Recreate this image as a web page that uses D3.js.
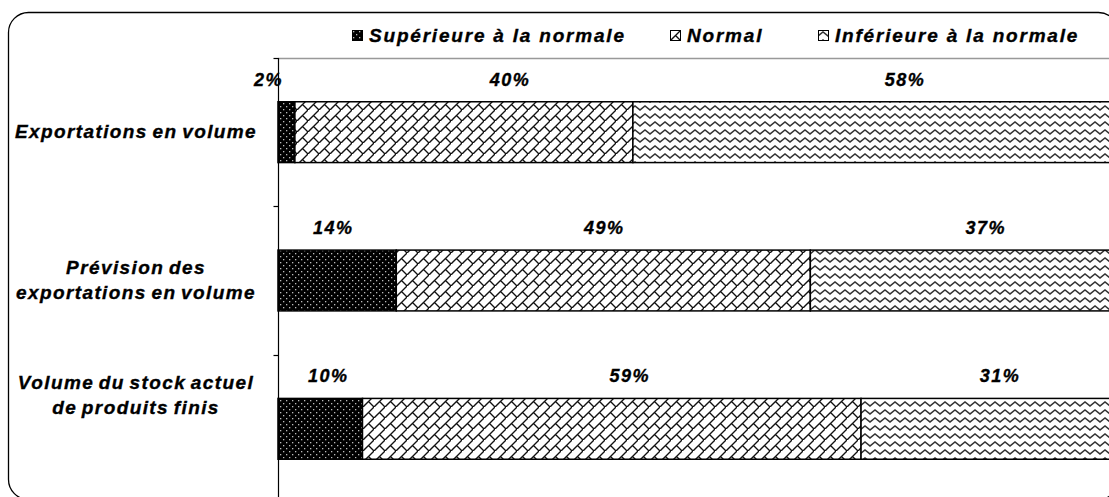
<!DOCTYPE html>
<html lang="fr">
  <head>
    <meta charset="UTF-8" />
    <title>Exportations</title>
    <script src="https://cdnjs.cloudflare.com/ajax/libs/d3/7.8.5/d3.min.js"></script>
    <style>
      body {
        margin: 0;
        background: #fff;
      }
      svg text {
        font-family: 'Liberation Sans', Arial, sans-serif;
        font-weight: bold;
        font-style: italic;
        fill: #000;
        stroke: #000;
        stroke-width: 0.35px;
      }
    </style>
  </head>
  <body>
    <svg width="1109" height="497"></svg>
    <script>
      // Data
      const categories = [
        'Exportations en volume',
        'Prévision des exportations en volume',
        'Volume du stock actuel de produits finis',
      ];
      const categoryLines = [
        ['Exportations en volume'],
        ['Prévision des', 'exportations en volume'],
        ['Volume du stock actuel', 'de produits finis'],
      ];
      const seriesNames = ['Supérieure à la normale', 'Normal', 'Inférieure à la normale'];
      const superieure = [2, 14, 10];
      const normal = [40, 49, 59];
      const inferieure = [58, 37, 31];

      // hand nudges of the value labels (as in the original layout)
      const labelShift = [
        [-18, 46, 27],
        [-4, 1, 19],
        [8, 18, 8],
      ];
      const catLabelShift = [0, 0, -33];

      const svg = d3.select('svg');
      const width = 1109;

      // patterns
      const defs = svg.append('defs');
      const pDots = defs
        .append('pattern')
        .attr('id', 'pSup')
        .attr('patternUnits', 'userSpaceOnUse')
        .attr('width', 6)
        .attr('height', 6);
      pDots.append('rect').attr('width', 6).attr('height', 6).attr('fill', '#000');
      pDots.append('rect').attr('x', 1).attr('y', 1).attr('width', 1.3).attr('height', 1.3).attr('fill', '#bbb');
      pDots.append('rect').attr('x', 4).attr('y', 4).attr('width', 1.3).attr('height', 1.3).attr('fill', '#bbb');

      const pBrick = defs
        .append('pattern')
        .attr('id', 'pNorm')
        .attr('patternUnits', 'userSpaceOnUse')
        .attr('width', 11)
        .attr('height', 11);
      pBrick.append('rect').attr('width', 11).attr('height', 11).attr('fill', '#fff');
      pBrick
        .append('path')
        .attr('d', 'M-1,12 L12,-1 M5.5,5.5 L11,11')
        .attr('stroke', '#111')
        .attr('stroke-width', 1.4)
        .attr('fill', 'none');

      const pWave = defs
        .append('pattern')
        .attr('id', 'pInf')
        .attr('patternUnits', 'userSpaceOnUse')
        .attr('width', 10)
        .attr('height', 8);
      pWave.append('rect').attr('width', 10).attr('height', 8).attr('fill', '#fff');
      pWave
        .append('path')
        .attr('d', 'M-5,2 L0,6 L5,2 L10,6 L15,2')
        .attr('stroke', '#333')
        .attr('stroke-width', 1.5)
        .attr('fill', 'none');

      const fills = ['url(#pSup)', 'url(#pNorm)', 'url(#pInf)'];

      // frame
      svg
        .append('rect')
        .attr('x', 8.5)
        .attr('y', 12.5)
        .attr('width', 1110)
        .attr('height', 487)
        .attr('rx', 20)
        .attr('fill', 'none')
        .attr('stroke', '#000')
        .attr('stroke-width', 1.3);

      // scales
      const x = d3.scaleLinear().domain([0, 100]).range([278, 1123]);
      const y = d3
        .scaleBand()
        .domain(categories)
        .range([58, 503])
        .paddingInner(0.59)
        .paddingOuter(0.295);

      // plot top border
      svg
        .append('line')
        .attr('x1', 278)
        .attr('x2', width)
        .attr('y1', 58.5)
        .attr('y2', 58.5)
        .attr('stroke', '#999')
        .attr('stroke-width', 1.5);

      // stack
      const rows = categories.map((c, i) => ({
        cat: c,
        vals: [superieure[i], normal[i], inferieure[i]],
      }));
      const stack = d3.stack().keys([0, 1, 2]).value((d, k) => d.vals[k]);
      const layers = stack(rows);

      const gBars = svg.append('g');
      layers.forEach((layer, k) => {
        gBars
          .selectAll(null)
          .data(layer)
          .enter()
          .append('rect')
          .attr('x', d => x(d[0]))
          .attr('y', d => y(d.data.cat))
          .attr('width', d => x(d[1]) - x(d[0]))
          .attr('height', y.bandwidth())
          .attr('fill', fills[k])
          .attr('stroke', '#000')
          .attr('stroke-width', 1.5);
      });

      // value labels
      layers.forEach((layer, k) => {
        svg
          .selectAll(null)
          .data(layer)
          .enter()
          .append('text')
          .attr('x', (d, i) => (x(d[0]) + x(d[1])) / 2 + labelShift[i][k])
          .attr('y', d => y(d.data.cat) - 16)
          .attr('text-anchor', 'middle')
          .style('font-size', '18px')
          .style('letter-spacing', '1.5px')
          .text(d => d.data.vals[k] + '%');
      });

      // category axis
      const axisX = 278.5;
      svg
        .append('line')
        .attr('x1', axisX)
        .attr('x2', axisX)
        .attr('y1', 58)
        .attr('y2', 497)
        .attr('stroke', '#000')
        .attr('stroke-width', 1.2);
      d3.range(categories.length + 1).forEach(i => {
        const ty = Math.round(58 + i * y.step()) + 0.5;
        svg
          .append('line')
          .attr('x1', axisX - 5)
          .attr('x2', axisX)
          .attr('y1', ty)
          .attr('y2', ty)
          .attr('stroke', '#000')
          .attr('stroke-width', 1.2);
      });

      categories.forEach((c, i) => {
        const lines = categoryLines[i];
        const cy = y(c) + y.bandwidth() / 2 + catLabelShift[i];
        const t = svg
          .append('text')
          .attr('text-anchor', 'middle')
          .style('font-size', '19px')
          .style('letter-spacing', '1.4px')
          .style('word-spacing', '-2px');
        lines.forEach((ln, j) => {
          t.append('tspan')
            .attr('x', 136)
            .attr('y', cy + 6 + (j - (lines.length - 1) / 2) * 25)
            .text(ln);
        });
      });

      // legend
      const legendX = [352, 670, 818];
      seriesNames.forEach((name, k) => {
        const g = svg.append('g').attr('transform', `translate(${legendX[k]},30)`);
        g.append('rect')
          .attr('x', 0.5)
          .attr('y', 0.5)
          .attr('width', 10)
          .attr('height', 10)
          .attr('fill', fills[k])
          .attr('stroke', '#000')
          .attr('stroke-width', 1);
        g.append('text')
          .attr('x', 17)
          .attr('y', 12)
          .style('font-size', '19px')
          .style('letter-spacing', '1.8px')
          .text(name);
      });
    </script>
  </body>
</html>
